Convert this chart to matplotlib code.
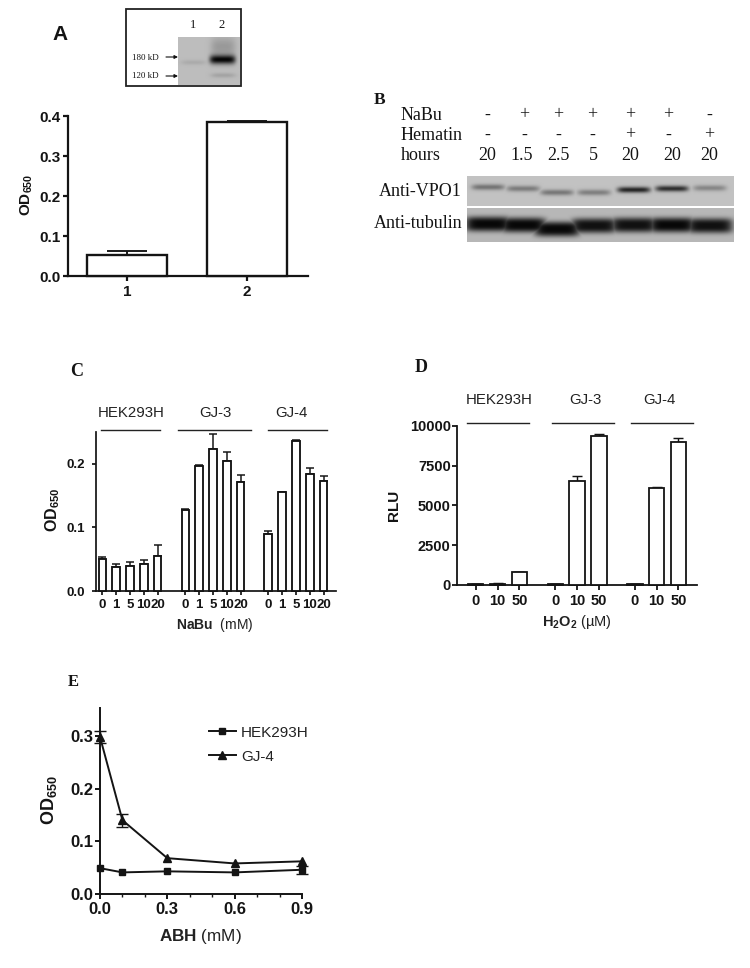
import numpy as np
import matplotlib
matplotlib.use("Agg")
import matplotlib.pyplot as plt
from matplotlib.lines import Line2D

plt.rcParams.update({
    'font.family': ['Liberation Sans', 'DejaVu Sans'],
    'mathtext.fontset': 'custom',
    'mathtext.rm': 'Liberation Sans',
    'mathtext.bf': 'Liberation Sans:bold',
    'mathtext.it': 'Liberation Sans:italic',
    'mathtext.default': 'regular',
})

W, H = 750, 968
INK = '#141414'
SERIF = 'Liberation Serif'

# ---- data ----
A_CATS = [1, 2]
A_VALS = [0.052, 0.385]
A_ERR = [0.010, 0.003]

B_NABU = ['-', '+', '+', '+', '+', '+', '-']
B_HEMATIN = ['-', '-', '-', '-', '+', '-', '+']
B_HOURS = ['20', '1.5', '2.5', '5', '20', '20', '20']
LANES = [0.079, 0.21, 0.337, 0.476, 0.625, 0.768, 0.91]
VPO1_DARK = [0.42, 0.38, 0.40, 0.36, 0.85, 0.80, 0.32]
VPO1_ROW = [0.37, 0.42, 0.55, 0.55, 0.46, 0.42, 0.40]
TUB_DARK = [1.0, 1.0, 1.0, 0.95, 0.95, 1.0, 0.95]
TUB_ROW = [0.47, 0.50, 0.62, 0.52, 0.50, 0.50, 0.52]

C_GROUPS = ['HEK293H', 'GJ-3', 'GJ-4']
C_DOSES = ['0', '1', '5', '10', '20']
C_VALS = [[0.050, 0.038, 0.039, 0.043, 0.055],
          [0.128, 0.197, 0.223, 0.205, 0.172],
          [0.090, 0.155, 0.236, 0.184, 0.173]]
C_ERR = [[0.004, 0.004, 0.006, 0.005, 0.018],
         [0.001, 0.001, 0.024, 0.014, 0.010],
         [0.004, 0.001, 0.001, 0.010, 0.008]]

D_GROUPS = ['HEK293H', 'GJ-3', 'GJ-4']
D_DOSES = ['0', '10', '50']
D_VALS = [[50, 80, 800], [50, 6550, 9350], [50, 6080, 9000]]
D_ERR = [[10, 20, 20], [10, 320, 170], [10, 80, 250]]

E_X = [0.0, 0.1, 0.3, 0.6, 0.9]
E_HEK = [0.049, 0.041, 0.043, 0.041, 0.046]
E_HEK_ERR = [0, 0, 0, 0, 0.008]
E_GJ4 = [0.298, 0.140, 0.068, 0.058, 0.062]
E_GJ4_ERR = [0.012, 0.012, 0, 0, 0]

# ---- helpers ----
fig = plt.figure(figsize=(W / 100, H / 100), dpi=100, facecolor='white')


def px_axes(left, right, top, bottom):
    return fig.add_axes([left / W, 1 - bottom / H, (right - left) / W, (bottom - top) / H])


def txt(x, y, s, **kw):
    kw.setdefault('ha', 'center')
    kw.setdefault('va', 'center')
    kw.setdefault('color', INK)
    return fig.text(x / W, 1 - y / H, s, **kw)


def style(ax, lw, tick, xs, ys, xpad, ypad):
    ax.patch.set_alpha(0)
    for s in ('top', 'right'):
        ax.spines[s].set_visible(False)
    for s in ('left', 'bottom'):
        ax.spines[s].set_linewidth(lw)
        ax.spines[s].set_color(INK)
    ax.tick_params(width=lw, length=tick, color=INK, labelcolor=INK)
    ax.tick_params(axis='x', labelsize=xs, pad=xpad)
    ax.tick_params(axis='y', labelsize=ys, pad=ypad)
    for t in ax.get_xticklabels() + ax.get_yticklabels():
        t.set_fontweight('bold')


def bars(ax, x, y, err, width, lw, cap):
    ax.bar(x, y, width=width, facecolor='white', edgecolor=INK, linewidth=lw, zorder=3, clip_on=False)
    ax.errorbar(x, y, yerr=[np.zeros(len(y)), err], fmt='none', ecolor=INK,
                elinewidth=lw * 0.8, capsize=cap, capthick=lw * 0.8, zorder=2, clip_on=False)


def blot(box, base, rows, darks, sigma, half_width, power):
    left, right, top, bottom = box
    ax = px_axes(left, right, top, bottom)
    ny, nx = int(bottom - top) * 3, int(right - left) * 3
    yy, xx = np.mgrid[0:1:ny * 1j, 0:1:nx * 1j]
    dark = np.zeros((ny, nx))
    for c, r, d in zip(LANES, rows, darks):
        prof_x = np.exp(-(np.abs(xx - c) / half_width) ** 6)
        prof_y = np.exp(-(np.abs(yy - r) / sigma) ** power)
        dark = np.maximum(dark, d * prof_x * prof_y)
    ax.imshow(base - (base - 0.03) * dark, cmap='gray', vmin=0, vmax=1, aspect='auto',
              extent=(0, 1, 1, 0), interpolation='bilinear')
    ax.axis('off')


# ---- Panel A ----
axA = px_axes(68, 308, 116, 276)
bars(axA, A_CATS, A_VALS, A_ERR, 0.667, 1.7, 14.5)
axA.set_xlim(0.508, 2.508)
axA.set_ylim(0, 0.4)
axA.set_xticks(A_CATS)
axA.set_xticklabels([str(c) for c in A_CATS])
axA.set_yticks([0, 0.1, 0.2, 0.3, 0.4])
axA.set_yticklabels(['0.0', '0.1', '0.2', '0.3', '0.4'])
style(axA, lw=1.6, tick=3.8, xs=11, ys=11, xpad=2.5, ypad=1.7)
txt(27, 195, r'$\mathbf{OD_{650}}$', rotation=90, fontsize=11)
txt(60, 35, 'A', fontsize=15, fontweight='bold')

# inset of panel A
fig.add_artist(plt.Rectangle((126 / W, 1 - 86 / H), 115 / W, 77 / H, fill=False, edgecolor='#222222', linewidth=1.3))
gel = px_axes(178, 240, 37, 85)
ny, nx = 144, 186
yy, xx = np.mgrid[0:1:ny * 1j, 0:1:nx * 1j]
g = np.full((ny, nx), 0.74)
g -= 0.70 * np.exp(-((xx - 0.72) / 0.21) ** 6) * np.exp(-((yy - 0.47) / 0.095) ** 2)
g -= 0.14 * np.exp(-((xx - 0.73) / 0.2) ** 4) * np.exp(-((yy - 0.2) / 0.2) ** 2)
g -= 0.10 * np.exp(-((xx - 0.73) / 0.2) ** 4) * np.exp(-((yy - 0.80) / 0.05) ** 2)
g -= 0.07 * np.exp(-((xx - 0.25) / 0.2) ** 4) * np.exp(-((yy - 0.53) / 0.05) ** 2)
gel.imshow(np.clip(g, 0, 1), cmap='gray', vmin=0, vmax=1, aspect='auto', interpolation='bilinear')
gel.axis('off')
txt(193, 25, '1', family=SERIF, fontsize=9)
txt(222, 25, '2', family=SERIF, fontsize=9)
txt(145, 58, '180 kD', family=SERIF, fontsize=6.5)
txt(145, 75.5, '120 kD', family=SERIF, fontsize=6.5)
for yy_px in (57, 76):
    fig.add_artist(matplotlib.patches.FancyArrowPatch(
        (166 / W, 1 - yy_px / H), (178 / W, 1 - yy_px / H), transform=fig.transFigure,
        arrowstyle='-|>', mutation_scale=5, linewidth=0.8, color='#111111', shrinkA=0, shrinkB=0))

# ---- Panel B ----
txt(380, 100, 'B', family=SERIF, fontsize=12.5, fontweight='bold')
row_font = dict(family=SERIF, fontsize=13)
txt(401, 116, 'NaBu', ha='left', **row_font)
txt(401, 136, 'Hematin', ha='left', **row_font)
txt(401, 156, 'hours', ha='left', **row_font)
sign_x = [487, 524, 558, 592, 630, 668, 709]
hour_x = [487, 522, 558, 593, 630, 672, 709]
for x, a, b, h, hx in zip(sign_x, B_NABU, B_HEMATIN, B_HOURS, hour_x):
    txt(x, 115, a, **row_font)
    txt(x, 135, b, **row_font)
    txt(hx, 156, h, **row_font)
txt(462, 192, 'Anti-VPO1', ha='right', **row_font)
txt(462, 223, 'Anti-tubulin', ha='right', **row_font)
blot((467, 734, 176, 206), 0.76, VPO1_ROW, VPO1_DARK, 0.10, 0.062, 2)
blot((467, 734, 208, 242), 0.72, TUB_ROW, TUB_DARK, 0.22, 0.086, 3)

# ---- Panel C ----
axC = px_axes(96, 336, 432, 591)
C_OFFSETS = [0, 6, 12]
xs, labs = [], []
for off, vals, errs in zip(C_OFFSETS, C_VALS, C_ERR):
    x = off + np.arange(len(vals))
    bars(axC, x, vals, errs, 0.55, 1.35, 2.6)
    xs += list(x)
    labs += C_DOSES
axC.set_xlim(-0.46, 16.9)
axC.set_ylim(0, 0.25)
axC.set_xticks(xs)
axC.set_xticklabels(labs)
axC.set_yticks([0, 0.1, 0.2])
axC.set_yticklabels(['0.0', '0.1', '0.2'])
style(axC, lw=1.25, tick=3.2, xs=9.5, ys=9.5, xpad=2.2, ypad=4.7)
for g_name, cx, x0, x1 in zip(C_GROUPS, (131, 215, 291), (100.7, 178, 268), (160, 251, 327)):
    txt(cx, 413, g_name, fontsize=10.8, color='#222222')
    fig.add_artist(Line2D([x0 / W, x1 / W], [1 - 430 / H] * 2, color='#222222', linewidth=1.0))
txt(53, 510, r'$\mathbf{OD_{650}}$', rotation=90, fontsize=11.5)
txt(215, 625, r'$\mathbf{NaBu}$  (mM)', fontsize=10, color='#222222')
txt(77, 372, 'C', family=SERIF, fontsize=13, fontweight='bold')

# ---- Panel D ----
axD = px_axes(457, 697, 426, 585)
D_OFFSETS = [0, 3.65, 7.3]
xs, labs = [], []
for off, vals, errs in zip(D_OFFSETS, D_VALS, D_ERR):
    x = off + np.arange(len(vals))
    bars(axD, x, vals, errs, 0.7, 1.3, 3.3)
    xs += list(x)
    labs += D_DOSES
axD.set_xlim(-0.86, 10.15)
axD.set_ylim(0, 10000)
axD.set_xticks(xs)
axD.set_xticklabels(labs)
axD.set_yticks([0, 2500, 5000, 7500, 10000])
axD.set_yticklabels(['0', '2500', '5000', '7500', '10000'])
style(axD, lw=1.3, tick=3.5, xs=10.5, ys=10.5, xpad=3, ypad=1)
for g_name, cx, x0, x1 in zip(D_GROUPS, (499, 585, 659), (467, 552, 631), (529, 614, 693)):
    txt(cx, 400, g_name, fontsize=10.8, color='#222222')
    fig.add_artist(Line2D([x0 / W, x1 / W], [1 - 423 / H] * 2, color='#222222', linewidth=1.0))
txt(394, 505, 'RLU', rotation=90, fontsize=11, fontweight='bold')
txt(577, 622, r'$\mathbf{H_2O_2}$ (µM)', fontsize=10.5, color='#222222')
txt(421, 367, 'D', family=SERIF, fontsize=13, fontweight='bold')

# ---- Panel E ----
axE = px_axes(100, 302, 708, 894)
for vals, errs, mk, ms in ((E_HEK, E_HEK_ERR, 's', 4), (E_GJ4, E_GJ4_ERR, '^', 5.5)):
    axE.plot(E_X, vals, color=INK, marker=mk, ms=ms, lw=1.4, clip_on=False, zorder=3)
    keep = [i for i, e in enumerate(errs) if e > 0]
    axE.errorbar([E_X[i] for i in keep], [vals[i] for i in keep], yerr=[errs[i] for i in keep],
                 fmt='none', ecolor=INK, capsize=4.2, capthick=1.0, elinewidth=1.0,
                 clip_on=False, zorder=3)
axE.set_xlim(0, 0.9)
axE.set_ylim(0, 0.353)
axE.set_xticks([0, 0.3, 0.6, 0.9])
axE.set_xticklabels(['0.0', '0.3', '0.6', '0.9'])
axE.set_xticks([0.1, 0.2, 0.4, 0.5, 0.7, 0.8], minor=True)
axE.set_yticks([0, 0.1, 0.2, 0.3])
axE.set_yticklabels(['0.0', '0.1', '0.2', '0.3'])
style(axE, lw=1.4, tick=3.6, xs=12, ys=12, xpad=2.5, ypad=1.2)
axE.tick_params(axis='x', which='minor', length=2.2, width=1.0, color=INK)
handles = [Line2D([], [], color=INK, marker='s', ms=4, lw=1.4),
           Line2D([], [], color=INK, marker='^', ms=5.5, lw=1.4)]
leg = axE.legend(handles, ['HEK293H', 'GJ-4'], loc='upper left', bbox_to_anchor=(0.54, 0.905),
                 frameon=False, fontsize=11, handlelength=1.75, handletextpad=0.35,
                 labelspacing=0.65, borderpad=0, borderaxespad=0)
for t in leg.get_texts():
    t.set_color('#222222')
txt(49, 800, r'$\mathbf{OD_{650}}$', rotation=90, fontsize=13)
txt(200, 937, r'$\mathbf{ABH}$ (mM)', fontsize=12.3, color='#222222')
txt(73, 682, 'E', family=SERIF, fontsize=12, fontweight='bold')

fig.savefig('out.png', dpi=100, facecolor='white')
